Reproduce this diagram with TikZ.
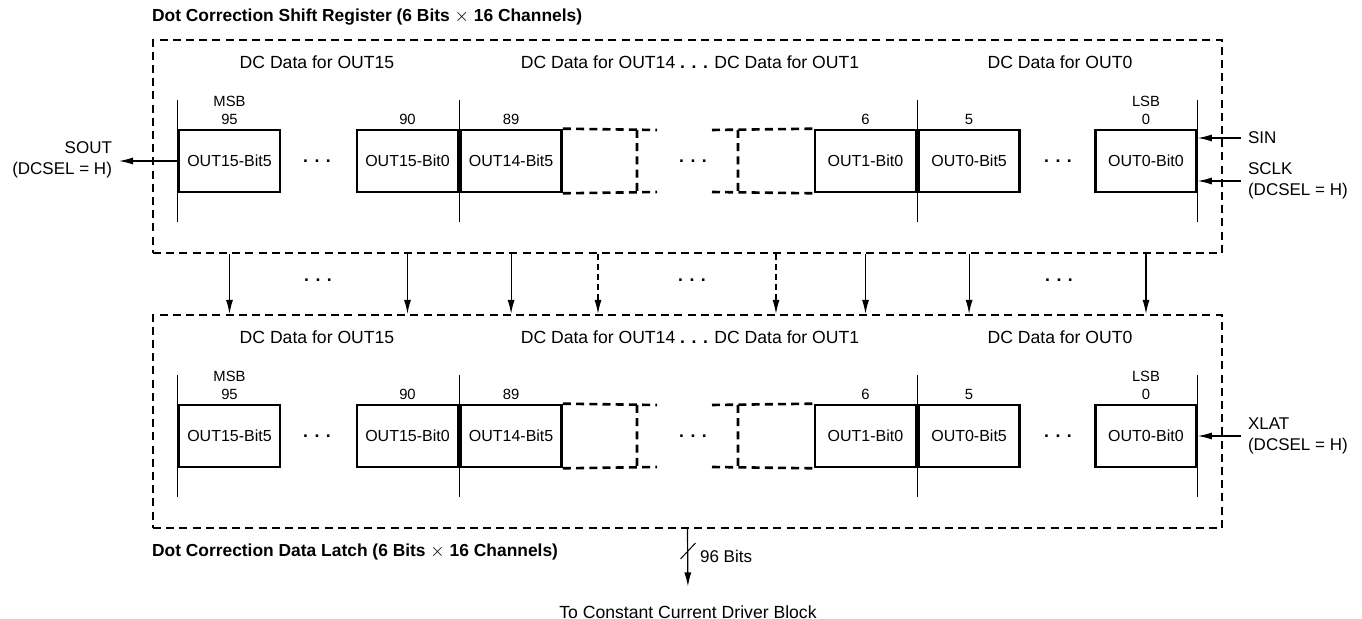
\documentclass[tikz,border=0pt]{standalone}
\usepackage{fontspec}
\setmainfont{Liberation Sans}
\usetikzlibrary{positioning, calc, arrows.meta}

\begin{document}
\begin{tikzpicture}[
        x=0.5pt, y=-0.5pt,
        node distance=0pt,
        cell/.style={draw, line width=1.3pt, minimum width=50.5pt, minimum height=31pt, inner sep=0pt, font=\fontsize{8}{10}\selectfont},
        frame/.style={draw, line width=1.1pt, dash pattern=on 4pt off 2.6pt, minimum width=534.5pt, minimum height=106.5pt, inner sep=0pt},
        ghost/.style={line width=1.3pt, dash pattern=on 4pt off 2.6pt},
        bitno/.style={font=\fontsize{7.4}{8.6}\selectfont, align=center, inner sep=1pt},
        chan/.style={font=\fontsize{8.8}{10}\selectfont},
        gap/.style={font=\bfseries\fontsize{8.8}{10}\selectfont},
        title/.style={font=\bfseries\fontsize{8.7}{10}\selectfont, anchor=west},
        pin/.style={font=\fontsize{8.5}{10.5}\selectfont, align=left, anchor=west},
        tick/.style={line width=0.5pt},
        sig/.style={-{Latex[length=7pt, width=3.5pt]}, line width=0.6pt},
        weak/.style={sig, dash pattern=on 3pt off 2pt}
    ]
    \useasboundingbox (0,0) rectangle (1362,619);

    % the two dashed blocks
    \node[frame] (sreg) at (687.5,146.5) {};
    \node[frame] (lreg) at (687.5,421.5) {};
    \node[title] (ttop) at (145,17) {Dot Correction Shift Register (6 Bits $\times$ 16 Channels)};
    \node[title] (tbot) at (145,552) {Dot Correction Data Latch (6 Bits $\times$ 16 Channels)};

    % one row of cells per block
    \foreach \p/\yc in {s/161, l/436} {
        \node[cell] (\p15b5) at (229.5,\yc) {OUT15-Bit5};
        \node[cell] (\p15b0) at (407.5,\yc) {OUT15-Bit0};
        \node[cell, right=of \p15b0] (\p14b5) {OUT14-Bit5};
        \node[cell] (\p1b0) at (865.5,\yc) {OUT1-Bit0};
        \node[cell, right=of \p1b0] (\p0b5) {OUT0-Bit5};
        \node[cell] (\p0b0) at (1146,\yc) {OUT0-Bit0};
        \coordinate (\p g14) at (598,\yc);
        \coordinate (\p g1) at (776,\yc);
        \draw[ghost] (\p14b5.north east) -- (657,\yc-31) (\p14b5.south east) -- (657,\yc+31)
            (637,\yc-31) -- (637,\yc+31);
        \draw[ghost] (712,\yc-31) -- (\p1b0.north west) (712,\yc+31) -- (\p1b0.south west)
            (738,\yc-31) -- (738,\yc+31);
        \node[gap] (\p d1) at (317,\yc) {. . .};
        \node[gap] (\p d2) at (693,\yc) {. . .};
        \node[gap] (\p d3) at (1058,\yc) {. . .};
        \foreach \a in {\p15b5.west, \p15b0.east, \p1b0.east, \p0b0.east}
            \draw[tick] (\a) ++(0,-61) -- ++(0,122);
        \node[bitno, above=1pt of \p15b5] (\p n95) {MSB\\95};
        \node[bitno, above=1pt of \p15b0] (\p n90) {90};
        \node[bitno, above=1pt of \p14b5] (\p n89) {89};
        \node[bitno, above=1pt of \p1b0] (\p n6) {6};
        \node[bitno, above=1pt of \p0b5] (\p n5) {5};
        \node[bitno, above=1pt of \p0b0] (\p n0) {LSB\\0};
        \node[chan] (\p h15) at (317,\yc-99) {DC Data for OUT15};
        \node[chan] (\p h14) at (690,\yc-99) {DC Data for OUT14 {\bfseries . . .} DC Data for OUT1};
        \node[chan] (\p h0) at (1060,\yc-99) {DC Data for OUT0};
    }

    % shift register -> latch
    \foreach \c in {15b5, 15b0, 14b5, 1b0, 0b5, 0b0}
        \draw[sig] (s\c |- sreg.south) -- (l\c |- lreg.north);
    \foreach \c in {g14, g1}
        \draw[weak] (s\c |- sreg.south) -- (l\c |- lreg.north);
    \node[gap] (md1) at (318,280) {. . .};
    \node[gap] (md2) at (692,280) {. . .};
    \node[gap] (md3) at (1059,280) {. . .};

    % pins
    \node[pin] (sin) at (1241,138) {SIN};
    \node[pin] (sclk) at (1241,181) {SCLK\\(DCSEL = H)};
    \node[pin] (xlat) at (1241,436) {XLAT\\(DCSEL = H)};
    \node[pin, anchor=east, align=right] (sout) at (119,160) {SOUT\\(DCSEL = H)};
    \draw[sig] (sin.west) -- (sin.west -| s0b0.east);
    \draw[sig] (sclk.west) -- (sclk.west -| s0b0.east);
    \draw[sig] (xlat.west) -- (xlat.west -| l0b0.east);
    \draw[sig] (s15b5.west) -- (s15b5.west -| sout.east);

    % output bus
    \node[chan] (drv) at (688,612) {To Constant Current Driver Block};
    \draw[sig, shorten >=6pt] (lreg.south) -- (drv.north);
    \coordinate (busmark) at (lreg.south |- 0,551);
    \draw[tick] (busmark) ++(-7,8) -- ++(15,-16);
    \node[pin] (bus) at (693,556) {96 Bits};
\end{tikzpicture}
\end{document}
